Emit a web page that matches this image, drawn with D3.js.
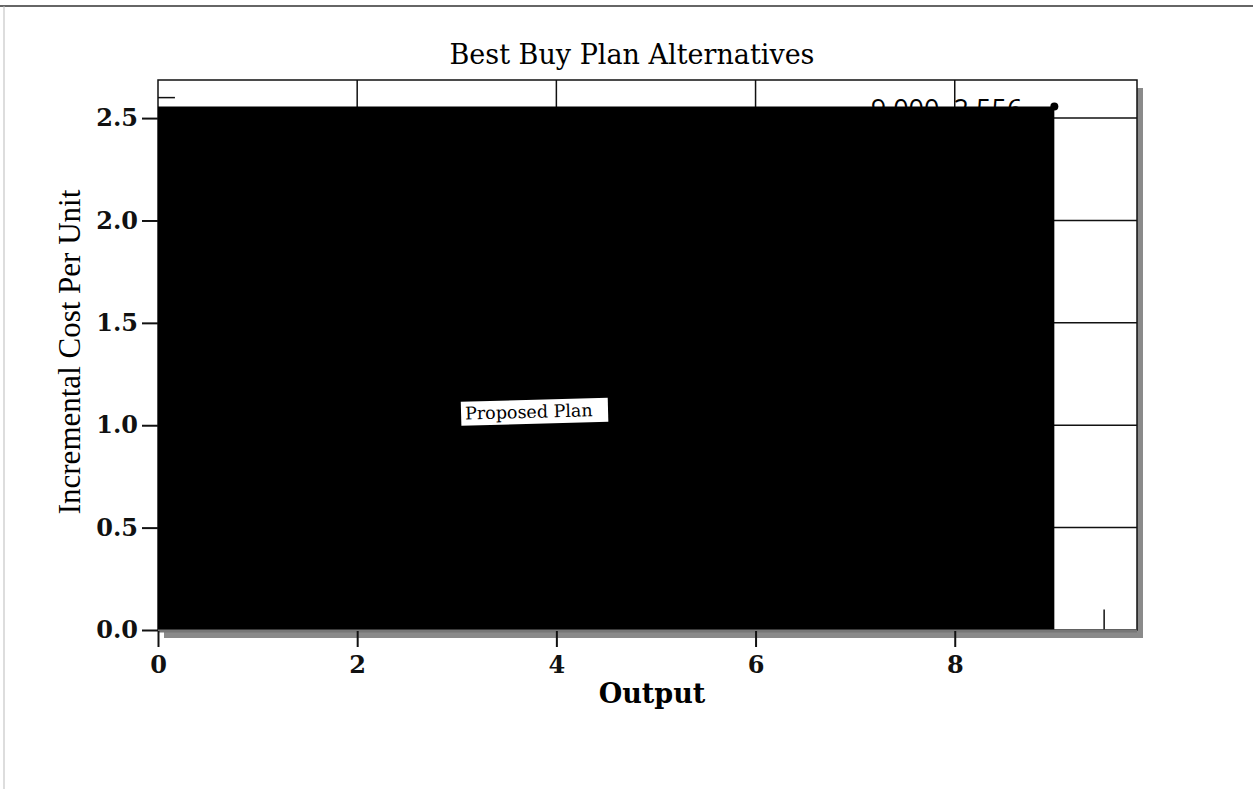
<!DOCTYPE html>
<html>
<head>
<meta charset="utf-8">
<script src="https://cdn.jsdelivr.net/npm/d3@7"></script>
<style>
  body { margin: 0; background: #fff; }
  svg { display: block; }
</style>
</head>
<body>
<svg id="chart" width="1253" height="789"></svg>
<script>
// chart data
var outputs = [0, 9.0];          // output range covered by the plan block
var costs = [2.556];             // incremental cost per unit of the block
var pointLabel = '9.000, 2.556';
var xTicks = [0, 2, 4, 6, 8];
var yTicks = [0.0, 0.5, 1.0, 1.5, 2.0, 2.5];
var note = { text: 'Proposed Plan', x: 3.04, y: 1.115 };

var svg = d3.select('#chart');

var x = d3.scaleLinear().domain([0, 9.83]).range([158, 1137]);
var y = d3.scaleLinear().domain([0, 2.686]).range([630, 80]);

// page edges (scan)
svg.append('line').attr('x1', 0).attr('x2', 1253).attr('y1', 6).attr('y2', 6)
  .attr('stroke', '#333').attr('stroke-width', 1.5);
svg.append('line').attr('x1', 4).attr('x2', 4).attr('y1', 6).attr('y2', 789)
  .attr('stroke', '#bbb').attr('stroke-width', 1);

// title
svg.append('text')
  .attr('x', 632).attr('y', 64)
  .attr('text-anchor', 'middle')
  .style('font-family', '"DejaVu Serif", serif')
  .style('font-size', '27px')
  .text('Best Buy Plan Alternatives');

// frame shadow
svg.append('rect')
  .attr('x', x.range()[0] + 6).attr('y', y.range()[1] + 8)
  .attr('width', x.range()[1] - x.range()[0]).attr('height', y.range()[0] - y.range()[1])
  .attr('fill', '#8a8a8a');

svg.append('rect')
  .attr('x', x.range()[0]).attr('y', y.range()[1])
  .attr('width', x.range()[1] - x.range()[0]).attr('height', y.range()[0] - y.range()[1])
  .attr('fill', '#fff').attr('stroke', '#111').attr('stroke-width', 1.5);

// grid
var grid = svg.append('g').attr('class', 'grid');
grid.selectAll('line.vx').data(xTicks.filter(function(d){ return d > 0; }))
  .enter().append('line')
  .attr('x1', function(d){ return x(d); }).attr('x2', function(d){ return x(d); })
  .attr('y1', y.range()[1]).attr('y2', y.range()[0])
  .attr('stroke', '#111').attr('stroke-width', 1.5);
grid.selectAll('line.hy').data(yTicks.filter(function(d){ return d > 0; }))
  .enter().append('line')
  .attr('x1', x.range()[0]).attr('x2', x.range()[1])
  .attr('y1', function(d){ return y(d); }).attr('y2', function(d){ return y(d); })
  .attr('stroke', '#111').attr('stroke-width', 1.5);

// small inner marks
svg.append('line').attr('x1', x(0)).attr('x2', x(0.17))
  .attr('y1', y(2.6)).attr('y2', y(2.6)).attr('stroke', '#111').attr('stroke-width', 1.5);
svg.append('line').attr('x1', x(9.5)).attr('x2', x(9.5))
  .attr('y1', y(0)).attr('y2', y(0.1)).attr('stroke', '#111').attr('stroke-width', 1.5);

// label for the end point (partly covered by the block)
svg.append('text')
  .attr('x', x(9) - 32).attr('y', y(2.556) + 12)
  .attr('text-anchor', 'end')
  .style('font-family', '"Open Sans", sans-serif')
  .style('font-size', '27px')
  .text(pointLabel);

// the plan block
var area = d3.area()
  .x(function(d){ return x(d); })
  .y0(y(0))
  .y1(y(costs[0]))
  .curve(d3.curveStepAfter);
svg.append('path')
  .datum(outputs)
  .attr('d', area)
  .attr('fill', '#000');

svg.append('circle')
  .attr('cx', x(outputs[1])).attr('cy', y(costs[0]))
  .attr('r', 4).attr('fill', '#000');

// bottom frame line (shaded)
svg.append('line').attr('x1', x.range()[0]).attr('x2', x.range()[1])
  .attr('y1', y(0) + 1).attr('y2', y(0) + 1)
  .attr('stroke', '#777').attr('stroke-width', 3);

// axes
var xAxis = svg.append('g').attr('transform', 'translate(0,' + (y(0) + 1) + ')')
  .call(d3.axisBottom(x).tickValues(xTicks).tickSize(16).tickPadding(9).tickFormat(d3.format('d')));
xAxis.select('.domain').remove();
xAxis.selectAll('line').attr('stroke', '#111').attr('stroke-width', 2);
xAxis.selectAll('text')
  .style('font-family', '"DejaVu Serif", serif').style('font-weight', 'bold')
  .style('font-size', '24px').attr('fill', '#111');

var yAxis = svg.append('g').attr('transform', 'translate(' + x(0) + ',0)')
  .call(d3.axisLeft(y).tickValues(yTicks).tickSize(16).tickPadding(4).tickFormat(d3.format('.1f')));
yAxis.select('.domain').remove();
yAxis.selectAll('line').attr('stroke', '#111').attr('stroke-width', 2);
yAxis.selectAll('text')
  .style('font-family', '"DejaVu Serif", serif').style('font-weight', 'bold')
  .style('font-size', '24px').attr('fill', '#111');

svg.append('text')
  .attr('x', 652).attr('y', 703)
  .attr('text-anchor', 'middle')
  .style('font-family', '"DejaVu Serif", serif').style('font-weight', 'bold')
  .style('font-size', '27px')
  .text('Output');

svg.append('text')
  .attr('transform', 'translate(80,352) rotate(-90)')
  .attr('text-anchor', 'middle')
  .style('font-family', '"Liberation Serif", serif')
  .style('font-size', '31px')
  .text('Incremental Cost Per Unit');

// proposed plan note
var ng = svg.append('g')
  .attr('transform', 'translate(' + x(note.x) + ',' + y(note.y) + ') rotate(-1.5)');
ng.append('rect').attr('x', 0).attr('y', 0).attr('width', 147).attr('height', 24).attr('fill', '#fff');
ng.append('text').attr('x', 4).attr('y', 18)
  .style('font-family', '"DejaVu Serif", serif')
  .style('font-size', '17.5px')
  .text(note.text);
</script>
</body>
</html>
